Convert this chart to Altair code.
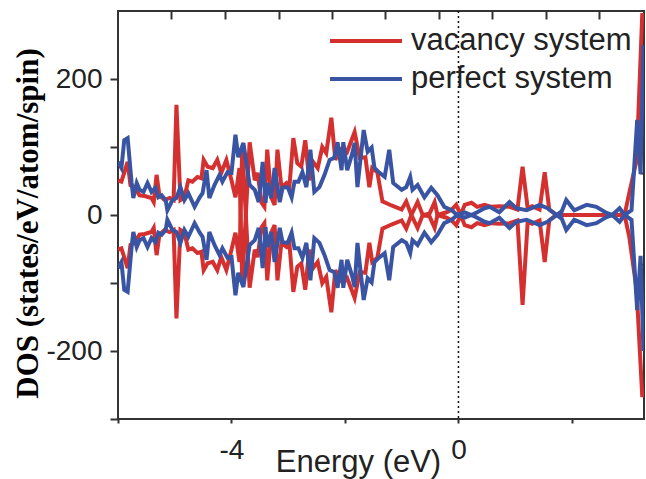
import altair as alt
import pandas as pd

# ---------------- data ----------------
e_vac = [-6.00, -5.94, -5.83, -5.78, -5.71, -5.62, -5.53, -5.41, -5.37, -5.32,
         -5.27, -5.18, -5.09, -5.02, -4.97, -4.90, -4.83, -4.76, -4.69, -4.60,
         -4.53, -4.49, -4.42, -4.33, -4.25, -4.18, -4.09, -4.00, -3.93, -3.86,
         -3.81, -3.68, -3.59, -3.54, -3.47, -3.42, -3.37, -3.30, -3.24, -3.19,
         -3.12, -3.03, -2.98, -2.91, -2.84, -2.77, -2.70, -2.63, -2.56, -2.48,
         -2.40, -2.33, -2.24, -2.17, -2.10, -2.03, -1.96, -1.83, -1.74, -1.64,
         -1.57, -1.52, -1.43, -1.34, -1.18, -1.00, -0.92, -0.83, -0.72, -0.63,
         -0.51, -0.42, -0.37, -0.21, -0.12, -0.04, 0.04, 0.11, 0.23, 0.33,
         0.46, 0.58, 0.72, 0.90, 1.04, 1.13, 1.22, 1.30, 1.43, 1.52,
         1.60, 1.73, 2.04, 2.48, 2.84, 2.94, 3.01, 3.14, 3.24]
vac_up = [51, 49, 78, 44, 41, 29, 28, 25, 19, 59,
          29, 22, 25, 22, 162, 22, 26, 51, 49, 56,
          54, 81, 71, 69, 81, 62, 81, 51, 26, 69,
          -100, 107, 51, 62, 18, 12, 96, 26, 15, 96,
          41, 47, 41, 113, 76, 71, 110, 51, 78, 69,
          100, 91, 143, 81, 96, 99, 93, 122, 84, 85,
          41, 69, 63, 20, 14, 8, 20, 0, 19, 0,
          2, 19, 0, 4, 8, 15, 0, 15, 18, 12,
          15, 12, 13, 12, 8, 71, 10, 13, 8, 63,
          8, 0, 0, 0, 0, 5, 32, 81, 297]
vac_dn = [-51, -49, -78, -44, -41, -29, -28, -25, -19, -59,
          -29, -22, -25, -22, -152, -22, -26, -51, -49, -56,
          -54, -81, -71, -69, -81, -62, -81, -51, -26, -69,
          100, -107, -51, -62, -18, -12, -96, -26, -15, -96,
          -41, -47, -41, -113, -76, -71, -110, -51, -78, -69,
          -100, -91, -143, -81, -96, -99, -93, -122, -84, -85,
          -41, -69, -63, -20, -14, -8, -20, 0, -19, 0,
          -2, -19, 0, -4, -8, -15, 0, -15, -18, -12,
          -15, -12, -13, -12, -8, -132, -10, -13, -8, -69,
          -8, 0, 0, 0, 0, -5, -32, -110, -268]

e_perf = [-6.00, -5.94, -5.89, -5.83, -5.76, -5.73, -5.67, -5.62, -5.55, -5.48,
          -5.41, -5.34, -5.29, -5.23, -5.16, -5.13, -5.04, -4.97, -4.90, -4.83,
          -4.76, -4.65, -4.56, -4.51, -4.44, -4.39, -4.30, -4.21, -4.16, -4.07,
          -4.00, -3.93, -3.88, -3.79, -3.68, -3.59, -3.52, -3.45, -3.40, -3.37,
          -3.30, -3.24, -3.15, -3.10, -3.01, -2.94, -2.89, -2.82, -2.75, -2.68,
          -2.61, -2.54, -2.45, -2.36, -2.27, -2.19, -2.13, -2.06, -2.03, -1.96,
          -1.87, -1.83, -1.78, -1.67, -1.60, -1.53, -1.48, -1.39, -1.30, -1.22,
          -1.15, -1.00, -0.92, -0.85, -0.81, -0.72, -0.60, -0.48, -0.37, -0.25,
          -0.12, -0.02, 0.11, 0.23, 0.33, 0.46, 0.55, 0.72, 0.90, 1.02,
          1.20, 1.43, 1.57, 1.78, 1.90, 2.04, 2.26, 2.43, 2.61, 2.71,
          2.84, 2.93, 3.05, 3.15, 3.21, 3.26]
perf_up = [78, 69, 110, 113, 47, 25, 47, 37, 34, 47,
           34, 40, 26, 29, 22, 7, 22, 25, 41, 22,
           32, 12, 26, 32, 66, 25, 44, 59, 49, 63,
           62, 118, 85, 106, 44, 37, 19, 78, 18, 47,
           25, 69, 19, 40, 41, 26, 49, 49, 63, 41,
           96, 34, 41, 59, 81, 84, 107, 66, 107, 66,
           91, 106, 41, 125, 93, 99, 69, 62, 56, 96,
           47, 37, 41, 56, 37, 44, 26, 40, 29, 12,
           7, 0, 4, 0, 4, 10, 12, 4, 19, 10,
           7, 15, 10, -3, 22, 7, 15, 12, 3, 0,
           10, 0, 7, 140, 60, 250]
perf_dn = [-78, -69, -110, -113, -47, -25, -47, -37, -34, -47,
           -34, -40, -26, -29, -22, -7, -22, -25, -41, -22,
           -32, -12, -26, -32, -66, -25, -44, -59, -49, -63,
           -62, -118, -85, -106, -44, -37, -19, -78, -18, -47,
           -25, -69, -19, -40, -41, -26, -49, -49, -63, -41,
           -96, -34, -41, -59, -81, -84, -107, -66, -107, -66,
           -91, -106, -41, -125, -93, -99, -69, -62, -56, -96,
           -47, -37, -41, -56, -37, -44, -26, -40, -29, -12,
           -7, 0, -4, 0, -4, -10, -12, -4, -19, -10,
           -7, -15, -10, 3, -22, -7, -15, -12, -3, 0,
           -10, 0, -7, -140, -60, -200]

series_names = ["vacancy system", "perfect system"]
series_colors = ["#d3302f", "#3a54a4"]

x_ticks = [-6, -4, -2, 0, 2]
y_ticks = [-300, -200, -100, 0, 100, 200]
top_ticks = [-5.06, -4.11, -3.17, -2.23, -1.29, -0.34, 0.60, 1.54, 2.48]
right_ticks = [194, 62, -72, -179]
fermi = [0.0]

# ---------------- table ----------------
rows = []
for e, v in zip(e_vac, vac_up):
    rows.append({"energy": e, "dos": v, "system": series_names[0], "spin": "vac_up"})
for e, v in zip(e_vac, vac_dn):
    rows.append({"energy": e, "dos": v, "system": series_names[0], "spin": "vac_dn"})
for e, v in zip(e_perf, perf_up):
    rows.append({"energy": e, "dos": v, "system": series_names[1], "spin": "perf_up"})
for e, v in zip(e_perf, perf_dn):
    rows.append({"energy": e, "dos": v, "system": series_names[1], "spin": "perf_dn"})
df = pd.DataFrame(rows)
df_fermi = pd.DataFrame({"energy": fermi})

FONT = "Liberation Sans"
xscale = alt.Scale(domain=[-6.0, 3.27], nice=False, zero=False)
yscale = alt.Scale(domain=[-300, 300], nice=False, zero=False)

zero_line = alt.Chart(df_fermi).mark_rule(
    color="#111", strokeWidth=1.5, strokeDash=[2, 3]
).encode(x=alt.X("energy:Q", scale=xscale, axis=None))

lines = alt.Chart(df).mark_line(strokeWidth=4, clip=True).encode(
    x=alt.X("energy:Q", scale=xscale,
            axis=alt.Axis(values=x_ticks,
                          labelExpr="(datum.value == -4 || datum.value == 0) ? ('' + datum.value) : ''",
                          tickSize=4, labelPadding=13, labelFontSize=28,
                          title="Energy (eV)", titleFontSize=31, titleFontWeight="normal",
                          titleX=240, titleY=52, titleAlign="center",
                          titleBaseline="alphabetic", grid=False, domain=False)),
    y=alt.Y("dos:Q", scale=yscale,
            axis=alt.Axis(values=y_ticks,
                          labelExpr="(datum.value == -200 || datum.value == 0 || datum.value == 200) ? ('' + datum.value) : ''",
                          tickSize=8, labelPadding=8, labelFontSize=28,
                          title="DOS (states/eV/atom/spin)", titleFont="Liberation Serif",
                          titleFontWeight="bold", titleFontSize=31, titleColor="#000",
                          titleAngle=270, titleX=-90, titleY=212, titleAlign="center",
                          titleBaseline="middle", grid=False, domain=False)),
    color=alt.Color("system:N",
                    scale=alt.Scale(domain=series_names, range=series_colors),
                    legend=alt.Legend(title=None, orient="none", legendX=210, legendY=11,
                                      symbolType="stroke", symbolSize=5184,
                                      symbolStrokeWidth=4, labelFontSize=31,
                                      labelFont=FONT, labelColor="#222", labelOffset=7,
                                      clipHeight=38, rowPadding=0, padding=0,
                                      labelLimit=400)),
    detail="spin:N",
)

frame_axes = alt.Chart(df).mark_point(opacity=0).encode(
    x=alt.X("energy:Q", scale=xscale,
            axis=alt.Axis(orient="top", values=top_ticks, labels=False, tickSize=8,
                          offset=-8, domain=False, grid=False, title=None)),
    y=alt.Y("dos:Q", scale=yscale,
            axis=alt.Axis(orient="right", values=right_ticks, labels=False, tickSize=4,
                          offset=-4, domain=False, grid=False, title=None)),
)

chart = alt.layer(zero_line, lines, frame_axes).resolve_axis(
    x="independent", y="independent"
).properties(
    width=526, height=408,
    padding={"left": 118, "top": 11, "right": 2, "bottom": 60},
    autosize=alt.AutoSizeParams(type="none"),
).configure_view(
    stroke="#333", strokeWidth=2
).configure_axis(
    labelFont=FONT, titleFont=FONT, labelColor="#222", titleColor="#222",
    tickColor="#333", tickWidth=2
)

chart.save("out.html", embed_options={"renderer": "svg", "actions": False})
